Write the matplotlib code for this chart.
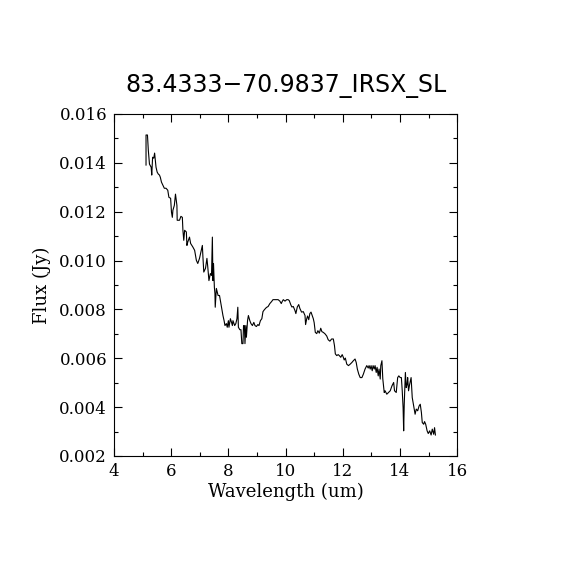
import matplotlib.pyplot as plt
from matplotlib.ticker import MultipleLocator

# spectrum
wavelength = [
    5.12, 5.12, 5.17, 5.20, 5.24, 5.30, 5.32, 5.35, 5.39, 5.42,
    5.45, 5.47, 5.51, 5.55, 5.59, 5.62, 5.66, 5.71, 5.76, 5.82,
    5.88, 5.92, 5.98, 6.01, 6.04, 6.06, 6.11, 6.15, 6.20, 6.21,
    6.29, 6.34, 6.39, 6.41, 6.44, 6.47, 6.53, 6.55, 6.58, 6.64,
    6.68, 6.76, 6.82, 6.88, 6.93, 6.99, 7.04, 7.09, 7.11, 7.14,
    7.20, 7.25, 7.28, 7.32, 7.37, 7.41, 7.44, 7.46, 7.48, 7.51,
    7.53, 7.54, 7.58, 7.64, 7.69, 7.75, 7.78, 7.81, 7.85, 7.88,
    7.93, 7.96, 8.00, 8.02, 8.07, 8.11, 8.14, 8.16, 8.22, 8.26,
    8.30, 8.33, 8.35, 8.40, 8.44, 8.47, 8.51, 8.53, 8.56, 8.58,
    8.61, 8.63, 8.67, 8.70, 8.75, 8.79, 8.84, 8.89, 8.93, 8.98,
    9.03, 9.07, 9.12, 9.17, 9.21, 9.26, 9.33, 9.39, 9.45, 9.51,
    9.56, 9.62, 9.68, 9.74, 9.80, 9.85, 9.88, 9.92, 9.98, 10.04,
    10.09, 10.13, 10.18, 10.22, 10.27, 10.33, 10.36, 10.41, 10.46, 10.50,
    10.56, 10.62, 10.68, 10.70, 10.74, 10.77, 10.81, 10.85, 10.89, 10.92,
    10.97, 11.00, 11.04, 11.09, 11.13, 11.18, 11.23, 11.27, 11.32, 11.38,
    11.44, 11.49, 11.55, 11.61, 11.67, 11.71, 11.74, 11.79, 11.84, 11.88,
    11.93, 11.98, 12.02, 12.05, 12.09, 12.14, 12.20, 12.26, 12.32, 12.37,
    12.43, 12.47, 12.51, 12.56, 12.61, 12.67, 12.72, 12.78, 12.84, 12.89,
    12.92, 12.96, 12.99, 13.03, 13.06, 13.10, 13.13, 13.17, 13.20, 13.24,
    13.27, 13.31, 13.33, 13.37, 13.40, 13.45, 13.48, 13.54, 13.60, 13.66,
    13.72, 13.78, 13.81, 13.87, 13.92, 13.96, 14.01, 14.05, 14.08, 14.11,
    14.13, 14.15, 14.19, 14.22, 14.25, 14.27, 14.30, 14.34, 14.39, 14.43,
    14.48, 14.53, 14.57, 14.62, 14.67, 14.71, 14.75, 14.78, 14.83, 14.86,
    14.90, 14.95, 14.99, 15.04, 15.09, 15.13, 15.18, 15.21, 15.24,
]
flux = [
    0.01391, 0.01514, 0.01514, 0.01452, 0.01395, 0.01382, 0.01350, 0.01423, 0.01419, 0.01440,
    0.01403, 0.01382, 0.01362, 0.01354, 0.01350, 0.01341, 0.01321, 0.01309, 0.01296, 0.01296,
    0.01288, 0.01259, 0.01255, 0.01198, 0.01177, 0.01206, 0.01226, 0.01272, 0.01226, 0.01165,
    0.01165, 0.01181, 0.01177, 0.01124, 0.01083, 0.01124, 0.01117, 0.01062, 0.01076, 0.01096,
    0.01070, 0.01055, 0.01042, 0.01001, 0.00988, 0.01009, 0.01035, 0.01062, 0.01014, 0.00953,
    0.00968, 0.01009, 0.00973, 0.00918, 0.00947, 0.00939, 0.01096, 0.00918, 0.00988, 0.00891,
    0.00865, 0.00809, 0.00886, 0.00857, 0.00857, 0.00816, 0.00795, 0.00775, 0.00754, 0.00734,
    0.00742, 0.00727, 0.00754, 0.00727, 0.00762, 0.00747, 0.00734, 0.00754, 0.00734, 0.00742,
    0.00762, 0.00809, 0.00727, 0.00717, 0.00717, 0.00660, 0.00660, 0.00734, 0.00734, 0.00660,
    0.00734, 0.00686, 0.00754, 0.00775, 0.00754, 0.00742, 0.00734, 0.00747, 0.00734, 0.00730,
    0.00738, 0.00734, 0.00754, 0.00762, 0.00791, 0.00799, 0.00808, 0.00812, 0.00824, 0.00832,
    0.00840, 0.00840, 0.00840, 0.00840, 0.00834, 0.00824, 0.00832, 0.00840, 0.00834, 0.00840,
    0.00840, 0.00836, 0.00820, 0.00810, 0.00812, 0.00795, 0.00783, 0.00810, 0.00820, 0.00804,
    0.00789, 0.00791, 0.00775, 0.00738, 0.00762, 0.00773, 0.00758, 0.00783, 0.00789, 0.00779,
    0.00762, 0.00746, 0.00706, 0.00701, 0.00713, 0.00703, 0.00723, 0.00709, 0.00706, 0.00700,
    0.00691, 0.00676, 0.00670, 0.00679, 0.00679, 0.00652, 0.00618, 0.00611, 0.00615, 0.00611,
    0.00604, 0.00615, 0.00604, 0.00593, 0.00601, 0.00576, 0.00570, 0.00576, 0.00583, 0.00590,
    0.00597, 0.00583, 0.00556, 0.00535, 0.00521, 0.00521, 0.00535, 0.00556, 0.00570, 0.00560,
    0.00570, 0.00556, 0.00570, 0.00549, 0.00570, 0.00556, 0.00570, 0.00542, 0.00563, 0.00528,
    0.00556, 0.00515, 0.00570, 0.00590, 0.00516, 0.00460, 0.00467, 0.00453, 0.00460, 0.00467,
    0.00487, 0.00501, 0.00467, 0.00460, 0.00521, 0.00528, 0.00521, 0.00521, 0.00467, 0.00398,
    0.00303, 0.00412, 0.00542, 0.00480, 0.00494, 0.00521, 0.00467, 0.00494, 0.00521, 0.00439,
    0.00405, 0.00371, 0.00392, 0.00385, 0.00405, 0.00412, 0.00378, 0.00337, 0.00330, 0.00341,
    0.00330, 0.00303, 0.00292, 0.00303, 0.00286, 0.00310, 0.00289, 0.00316, 0.00286,
]

title = "83.4333\u221270.9837_IRSX_SL"
x_label = "Wavelength (um)"
y_label = "Flux (Jy)"

fig = plt.figure(figsize=(5.7, 5.7), dpi=100)
ax = fig.add_axes([0.2, 0.2, 0.602, 0.6])

ax.plot(wavelength, flux, color="black", lw=0.8)

ax.set_xlim(4, 16)
ax.set_ylim(0.002, 0.016)
ax.xaxis.set_major_locator(MultipleLocator(2))
ax.xaxis.set_minor_locator(MultipleLocator(1))
ax.yaxis.set_major_locator(MultipleLocator(0.002))
ax.yaxis.set_minor_locator(MultipleLocator(0.001))
ax.yaxis.set_major_formatter(plt.FormatStrFormatter("%.3f"))

ax.tick_params(which="both", direction="in", top=True, right=True,
               width=0.8, labelsize=12)
ax.tick_params(which="major", length=6, pad=5)
ax.tick_params(which="minor", length=3)
for lab in ax.get_xticklabels() + ax.get_yticklabels():
    lab.set_family("DejaVu Serif")
for s in ax.spines.values():
    s.set_linewidth(0.8)

ax.set_xlabel(x_label, family="DejaVu Serif", fontsize=13, labelpad=2)
ax.set_ylabel(y_label, family="DejaVu Serif", fontsize=13, labelpad=6)
ax.set_title(title, family="DejaVu Sans", fontsize=17, pad=16)

fig.savefig("out.png", dpi=100)
